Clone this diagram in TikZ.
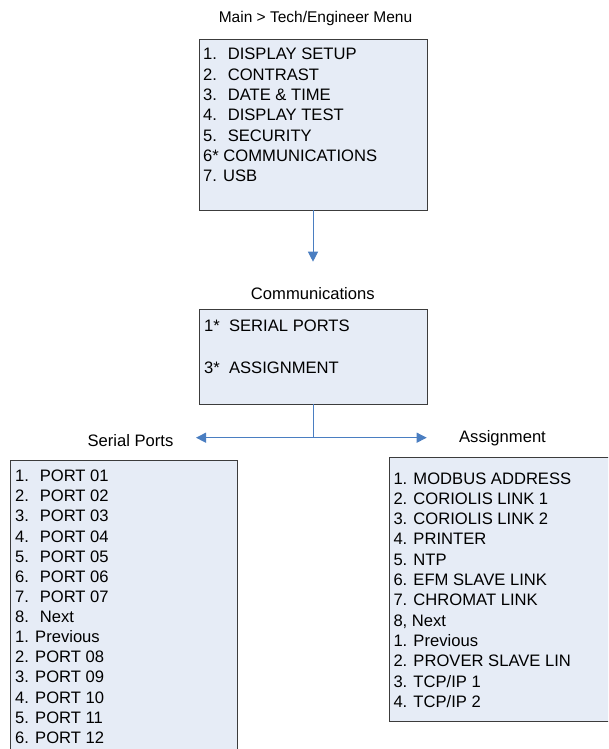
\documentclass[tikz,border=0pt]{standalone}
\usepackage{fontspec}
\setmainfont{Liberation Sans}
\usetikzlibrary{arrows.meta}
\definecolor{boxfill}{RGB}{230,236,246}
\definecolor{boxline}{RGB}{60,60,60}
\definecolor{arrowblue}{RGB}{74,126,193}
\tikzset{
  menubox/.style={draw=boxline, line width=1pt, fill=boxfill, rectangle, inner sep=0pt, outer sep=0pt},
  item/.style={anchor=base west, inner sep=0pt, font=\fontsize{16.6}{20}\selectfont, text=black},
  caption/.style={anchor=base, inner sep=0pt, font=\fontsize{16.6}{20}\selectfont, text=black},
  conn/.style={draw=arrowblue, line width=1pt, -{Triangle[length=10pt,width=10pt]}},
  plainconn/.style={draw=arrowblue, line width=1pt},
  dualconn/.style={draw=arrowblue, line width=1pt, {Triangle[length=10pt,width=10pt]}-{Triangle[length=10pt,width=10pt]}}
}
\begin{document}
\begin{tikzpicture}[x=1pt,y=-1pt]
\useasboundingbox (0,0) rectangle (608,749);
\clip (0,0) rectangle (608,749);
\fill[white] (0,0) rectangle (608,749);

% titles
\node[caption, font=\fontsize{15.5}{19}\selectfont] (tmain) at (315.5,22.7) {Main > Tech/Engineer Menu};
\node[caption] (tcomm) at (312.8,299) {Communications};
\node[caption] (tserial) at (130.5,446.7) {Serial Ports};
\node[caption] (tassign) at (502.5,442.7) {Assignment};

% boxes
\node[menubox, minimum width=227.3pt, minimum height=170.5pt] (main) at (313.6,124.75) {};
\node[menubox, minimum width=228pt, minimum height=95.3pt] (comm) at (313,356.65) {};
\node[menubox, minimum width=226.6pt, minimum height=320pt] (serial) at (124,620) {};
\node[menubox, minimum width=236pt, minimum height=264.4pt] (assign) at (507,589.5) {};

% main menu items
\foreach \t [count=\i] in {1.~ DISPLAY SETUP, 2.~ CONTRAST, 3.~ DATE \& TIME, 4.~ DISPLAY TEST, 5.~ SECURITY, 6* COMMUNICATIONS, 7. USB}
  \node[item] (m\i) at (203, {60+(\i-1)*20.3}) {\t};

% communications items
\node[item] (c1) at (204,331.7) {1*~ SERIAL PORTS};
\node[item] (c3) at (204,373.3) {3*~ ASSIGNMENT};

% serial port items
\foreach \t [count=\i] in {1.~ PORT 01, 2.~ PORT 02, 3.~ PORT 03, 4.~ PORT 04, 5.~ PORT 05, 6.~ PORT 06, 7.~ PORT 07, 8.~ Next, 1. Previous, 2. PORT 08, 3. PORT 09, 4. PORT 10, 5. PORT 11, 6. PORT 12}
  \node[item] (s\i) at (15, {481.7+(\i-1)*20.12}) {\t};

% assignment items
\foreach \t [count=\i] in {1. MODBUS ADDRESS, 2. CORIOLIS LINK 1, 3. CORIOLIS LINK 2, 4. PRINTER, 5. NTP, 6. EFM SLAVE LINK, 7. CHROMAT LINK, {8, Next}, 1. Previous, 2. PROVER SLAVE LIN, 3. TCP/IP 1, 4. TCP/IP 2}
  \node[item] (a\i) at (393.3, {484+(\i-1)*20.3}) {\t};

% connectors
\coordinate (arrtip) at (313,261.7);
\coordinate (junc) at (313,437.7);
\coordinate (ltip) at (196,437.7);
\coordinate (rtip) at (426.7,437.7);
\draw[conn] (main.south -| arrtip) -- (arrtip);
\draw[plainconn] (comm.south) -- (junc);
\draw[dualconn] (ltip) -- (rtip);
\end{tikzpicture}
\end{document}
